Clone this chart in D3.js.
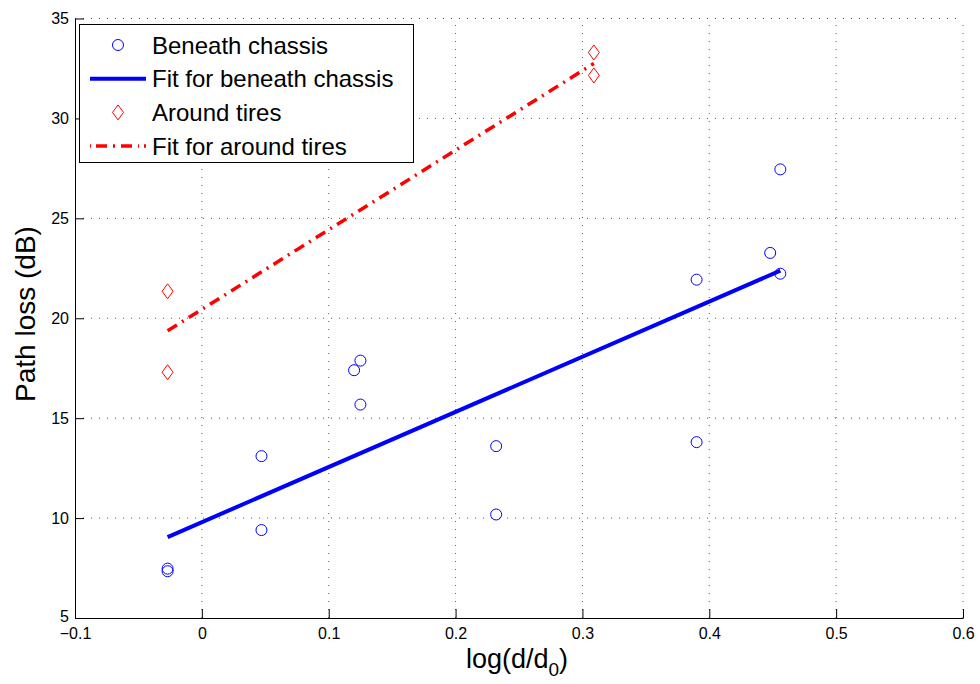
<!DOCTYPE html>
<html>
<head>
<meta charset="utf-8">
<script src="https://cdn.jsdelivr.net/npm/d3@7"></script>
<style>
  body { margin: 0; background: #fff; }
  text { font-family: "Liberation Sans", Arial, Helvetica, sans-serif; }
</style>
</head>
<body>
<div id="chart"></div>
<script>
// Beneath chassis measurements
const chassisX = [-0.027, -0.027, 0.047, 0.047, 0.120, 0.125, 0.125, 0.232, 0.232, 0.390, 0.390, 0.448, 0.456, 0.456];
const chassisY = [7.47, 7.34, 13.1, 9.4, 17.4, 17.88, 15.68, 13.6, 10.18, 21.93, 13.8, 23.27, 22.23, 27.45];
// Fit for beneath chassis (endpoints)
const chassisFitX = [-0.027, 0.456];
const chassisFitY = [9.05, 22.38];
// Around tires measurements
const tiresX = [-0.027, -0.027, 0.309, 0.309];
const tiresY = [21.35, 17.3, 33.3, 32.15];
// Fit for around tires (endpoints)
const tiresFitX = [-0.027, 0.309];
const tiresFitY = [19.37, 32.75];

const xTicks = [-0.1, 0, 0.1, 0.2, 0.3, 0.4, 0.5, 0.6];
const yTicks = [5, 10, 15, 20, 25, 30, 35];

const width = 980, height = 684;
const margin = { left: 75, right: 17, top: 18.5, bottom: 66 };

const svg = d3.select("#chart").append("svg")
  .attr("width", width)
  .attr("height", height);

const x = d3.scaleLinear().domain([-0.1, 0.6]).range([margin.left, width - margin.right]);
const y = d3.scaleLinear().domain([5, 35]).range([height - margin.bottom, margin.top]);

// Dotted grid
const grid = svg.append("g").attr("stroke", "#555").attr("stroke-width", 1).attr("stroke-dasharray", "1,7");
grid.selectAll("line.v").data(xTicks.slice(1)).enter().append("line")
  .attr("x1", d => x(d)).attr("x2", d => x(d))
  .attr("y1", y(5)).attr("y2", y(35));
grid.selectAll("line.h").data(yTicks.slice(1)).enter().append("line")
  .attr("x1", x(-0.1)).attr("x2", x(0.6))
  .attr("y1", d => y(d)).attr("y2", d => y(d));

// Axes (ticks pointing inward)
const xAxis = svg.append("g")
  .attr("transform", `translate(0,${y(5)})`)
  .call(d3.axisBottom(x).tickValues(xTicks).tickSizeInner(-9).tickSizeOuter(0)
    .tickFormat(d => d3.format("")(d).replace("-", "\u2212")));
xAxis.selectAll("text").attr("y", 10).attr("font-size", 16).attr("fill", "#000");

const yAxis = svg.append("g")
  .attr("transform", `translate(${x(-0.1)},0)`)
  .call(d3.axisLeft(y).tickValues(yTicks).tickSizeInner(-9).tickSizeOuter(0));
yAxis.selectAll("text").attr("x", -6).attr("font-size", 16).attr("fill", "#000");
yAxis.selectAll("g.tick").filter(d => d === 5).select("text").attr("dy", "0.2em");

svg.selectAll(".domain, .tick line").attr("stroke", "#000").attr("stroke-width", 1);
svg.selectAll("g.tick text").style("font-family", "'Liberation Sans', Arial, sans-serif");

// Axis labels
const xl = svg.append("text")
  .attr("x", 517).attr("y", 668)
  .attr("text-anchor", "middle").attr("font-size", 27);
xl.append("tspan").text("log(d/d");
xl.append("tspan").attr("dy", 8).attr("font-size", 19).text("0");
xl.append("tspan").attr("dy", -8).text(")");

svg.append("text")
  .attr("transform", `translate(35,314) rotate(-90)`)
  .attr("text-anchor", "middle").attr("font-size", 28)
  .text("Path loss (dB)");

// Fit lines
const line = d3.line().x(d => x(d[0])).y(d => y(d[1]));
svg.append("path")
  .datum(d3.zip(chassisFitX, chassisFitY))
  .attr("d", line).attr("fill", "none")
  .attr("stroke", "#0000ff").attr("stroke-width", 4);

svg.append("path")
  .datum(d3.zip(tiresFitX, tiresFitY))
  .attr("d", line).attr("fill", "none")
  .attr("stroke", "#ff0000").attr("stroke-width", 3.5)
  .attr("stroke-dasharray", "11,6,2,6");

// Markers
svg.append("g").selectAll("circle")
  .data(d3.zip(chassisX, chassisY)).enter().append("circle")
  .attr("cx", d => x(d[0])).attr("cy", d => y(d[1])).attr("r", 5.5)
  .attr("fill", "none").attr("stroke", "#0000ff").attr("stroke-width", 1);

const diamond = (cx, cy) => `M${cx},${cy - 7.5}L${cx + 5.5},${cy}L${cx},${cy + 7.5}L${cx - 5.5},${cy}Z`;
svg.append("g").selectAll("path")
  .data(d3.zip(tiresX, tiresY)).enter().append("path")
  .attr("d", d => diamond(x(d[0]), y(d[1])))
  .attr("fill", "none").attr("stroke", "#ff0000").attr("stroke-width", 1);

// Legend
const legend = svg.append("g");
legend.append("rect")
  .attr("x", 79.5).attr("y", 24.5).attr("width", 334).attr("height", 138)
  .attr("fill", "#fff").attr("stroke", "#000").attr("stroke-width", 1);

const legendItems = [
  { label: "Beneath chassis", type: "circle" },
  { label: "Fit for beneath chassis", type: "solid" },
  { label: "Around tires", type: "diamond" },
  { label: "Fit for around tires", type: "dashdot" }
];
legendItems.forEach((item, i) => {
  const cy = 45 + i * 33.7;
  if (item.type === "circle") {
    legend.append("circle").attr("cx", 118).attr("cy", cy).attr("r", 5.5)
      .attr("fill", "none").attr("stroke", "#0000ff");
  } else if (item.type === "diamond") {
    legend.append("path").attr("d", diamond(118, cy))
      .attr("fill", "none").attr("stroke", "#ff0000");
  } else if (item.type === "solid") {
    legend.append("line").attr("x1", 90).attr("x2", 146).attr("y1", cy).attr("y2", cy)
      .attr("stroke", "#0000ff").attr("stroke-width", 4);
  } else {
    legend.append("line").attr("x1", 90).attr("x2", 146).attr("y1", cy).attr("y2", cy)
      .attr("stroke", "#ff0000").attr("stroke-width", 3.5)
      .attr("stroke-dasharray", "1,5,11,6,2,6,11,6");
  }
  legend.append("text").attr("x", 152).attr("y", cy + 8.5)
    .attr("font-size", 24).text(item.label);
});
</script>
</body>
</html>
